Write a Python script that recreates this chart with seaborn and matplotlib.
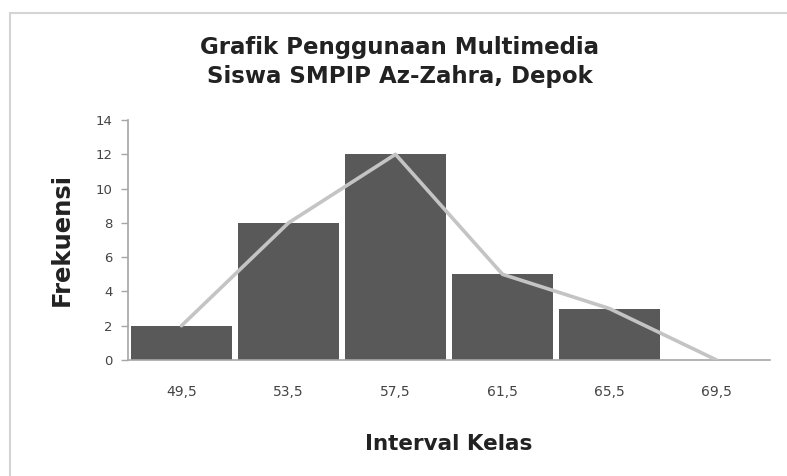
import matplotlib
matplotlib.use('Agg')
import matplotlib.pyplot as plt
import matplotlib.patches as patches
import numpy as np
import seaborn as sns

# Data
interval_labels = ['49,5', '53,5', '57,5', '61,5', '65,5', '69,5']
bar_freq = [2, 8, 12, 5, 3, 0]
polygon_freq = [2, 8, 12, 5, 3, 0]

sns.set_style('white')
plt.rcParams['font.family'] = ['DejaVu Sans']

fig = plt.figure(figsize=(7.87, 4.76), dpi=100)
ax = fig.add_axes([128 / 787, 116 / 476, 642 / 787, 240 / 476])

# Histogram bars
sns.barplot(x=interval_labels, y=bar_freq, color='#595959', saturation=1,
            width=0.95, edgecolor='#595959', linewidth=0, ax=ax)

# Frequency polygon through the bar centres
ax.plot(np.arange(len(interval_labels)), polygon_freq, color='#c4c4c4',
        linewidth=2.6, zorder=3)

ax.set_ylim(0, 14)
ax.set_yticks(range(0, 15, 2))
ax.set_xlim(-0.5, len(interval_labels) - 0.5)

for side in ['top', 'right']:
    ax.spines[side].set_visible(False)
for side in ['left', 'bottom']:
    ax.spines[side].set_color('#a6a6a6')
    ax.spines[side].set_linewidth(1.2)

ax.tick_params(axis='y', direction='out', length=5, width=1, color='#a6a6a6',
               labelsize=9.5, labelcolor='#444444', pad=6, left=True)
ax.tick_params(axis='x', length=0, labelsize=10, labelcolor='#444444', pad=18)

ax.set_xlabel('Interval Kelas', fontsize=15.5, fontweight='bold', labelpad=25,
              color='#222222')
ax.set_ylabel('Frekuensi', fontsize=17.5, fontweight='bold', labelpad=16,
              color='#222222')

fig.text(400 / 787, 1 - 62 / 476,
         'Grafik Penggunaan Multimedia\nSiswa SMPIP Az-Zahra, Depok',
         ha='center', va='center', fontsize=16.5, fontweight='bold',
         color='#222222', linespacing=1.3)

# Light frame around the chart area
frame = patches.Rectangle((10 / 787, -0.1), 1.0, 1.1 - 13 / 476,
                          transform=fig.transFigure, fill=False,
                          edgecolor='#d4d4d4', linewidth=1.5)
fig.patches.append(frame)

fig.savefig('out.png', dpi=100)
